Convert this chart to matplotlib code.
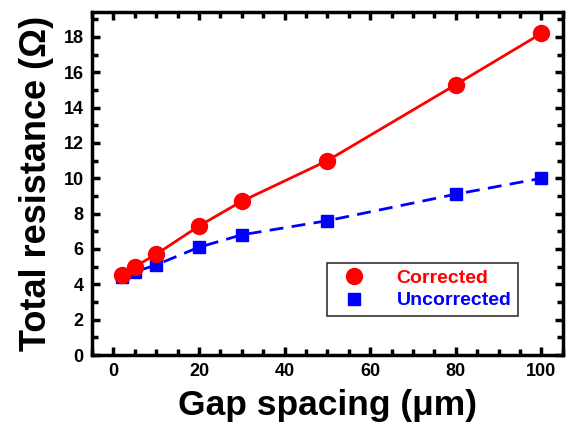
import matplotlib
matplotlib.use("Agg")
import matplotlib.pyplot as plt
from matplotlib.ticker import MultipleLocator

plt.rcParams['font.family'] = ['Liberation Sans', 'DejaVu Sans']
plt.rcParams['font.weight'] = 'bold'

# data
gap = [2, 5, 10, 20, 30, 50, 80, 100]
corrected = [4.5, 5.0, 5.7, 7.3, 8.7, 11.0, 15.3, 18.2]
uncorrected = [4.4, 4.7, 5.1, 6.1, 6.8, 7.6, 9.1, 10.0]

fig = plt.figure(figsize=(5.66, 4.34), dpi=100)
ax = fig.add_axes([0.1625, 0.182, 0.832, 0.79])

ax.plot(gap, uncorrected, color="blue", ls=(0, (5, 3)), lw=2, zorder=2)
ax.plot(gap, uncorrected, ls="none", marker="s", ms=9, color="blue",
        label="Uncorrected", zorder=3)
ax.plot(gap, corrected, color="red", lw=2, zorder=4)
ax.plot(gap, corrected, ls="none", marker="o", ms=11.5, color="red",
        label="Corrected", zorder=5)

ax.set_xlim(-5, 105)
ax.set_ylim(0, 19.4)
ax.xaxis.set_major_locator(MultipleLocator(20))
ax.xaxis.set_minor_locator(MultipleLocator(5))
ax.yaxis.set_major_locator(MultipleLocator(2))
ax.yaxis.set_minor_locator(MultipleLocator(1))
ax.tick_params(which="both", direction="in", top=True, right=True,
               labelsize=13, width=2.5, pad=6)
ax.tick_params(which="major", length=6)
ax.tick_params(which="minor", length=4)
for s in ax.spines.values():
    s.set_linewidth(2.5)

ax.set_xlabel("Gap spacing (\u03bcm)", fontsize=25.5, fontweight="bold", labelpad=6)
ax.set_ylabel("Total resistance (\u03a9)", fontsize=26, fontweight="bold", labelpad=7)

handles, labels = ax.get_legend_handles_labels()
leg = ax.legend(handles[::-1], labels[::-1], loc="lower right",
                bbox_to_anchor=(0.905, 0.113), fontsize=14, frameon=True,
                fancybox=False, edgecolor="black", handletextpad=1.2,
                handlelength=2.0, borderpad=0.35, labelspacing=0.25,
                borderaxespad=0)
leg.get_frame().set_linewidth(1.2)
for t, c in zip(leg.get_texts(), ["red", "blue"]):
    t.set_color(c)

fig.savefig("out.png", dpi=100)
